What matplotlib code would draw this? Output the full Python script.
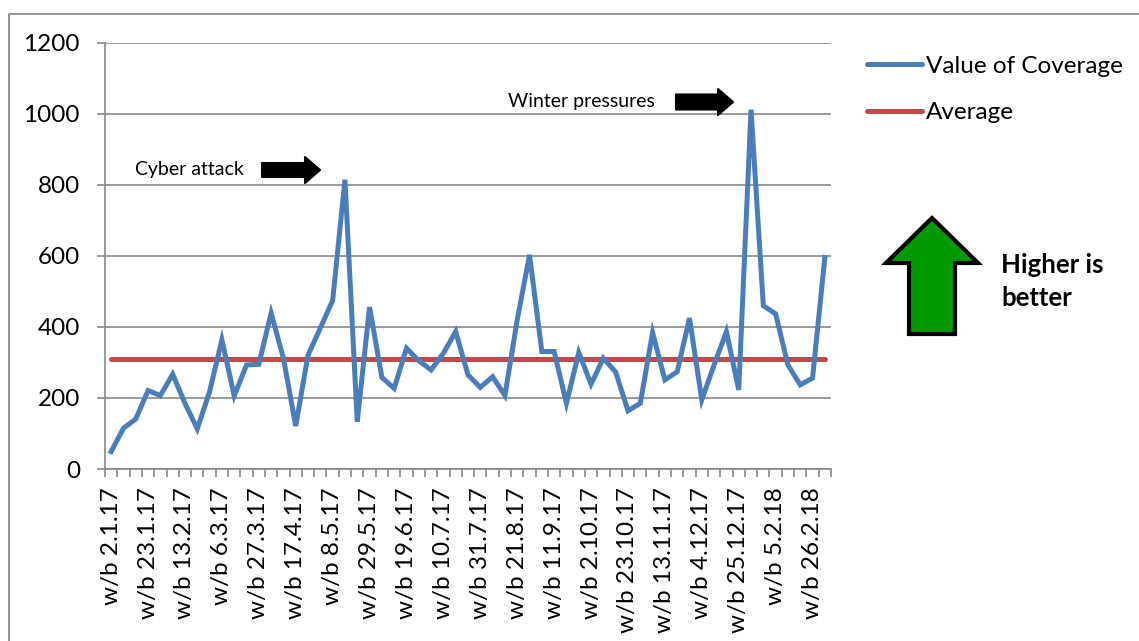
import matplotlib
matplotlib.use('Agg')
import matplotlib.pyplot as plt
from matplotlib.patches import Polygon
from matplotlib.lines import Line2D
import numpy as np

plt.rcParams['font.family'] = ['Lato', 'DejaVu Sans']

# weekly values of coverage
coverage = [49, 115, 141, 221, 207, 267, 185, 113, 218, 364,
            206, 293, 295, 439, 312, 121, 321, 397, 475, 815,
            133, 456, 258, 227, 340, 305, 279, 326, 387, 265,
            230, 260, 207, 420, 603, 331, 331, 185, 328, 239,
            312, 273, 164, 185, 384, 251, 274, 425, 195, 293,
            387, 223, 1012, 460, 437, 293, 237, 256, 596]
average = 309

tick_labels = ['w/b 2.1.17', 'w/b 23.1.17', 'w/b 13.2.17', 'w/b 6.3.17',
               'w/b 27.3.17', 'w/b 17.4.17', 'w/b 8.5.17', 'w/b 29.5.17',
               'w/b 19.6.17', 'w/b 10.7.17', 'w/b 31.7.17', 'w/b 21.8.17',
               'w/b 11.9.17', 'w/b 2.10.17', 'w/b 23.10.17', 'w/b 13.11.17',
               'w/b 4.12.17', 'w/b 25.12.17', 'w/b 5.2.18', 'w/b 26.2.18']
tick_every = 3

W, H = 1139, 641
BLUE = '#4A7EBB'
RED = '#BE4B48'
GRID = '#898989'
FS = 17.5

def fx(x):
    return x / W

def fy(y):
    return 1 - y / H

fig = plt.figure(figsize=(W / 100, H / 100), dpi=100)
ax = fig.add_axes([fx(105), fy(469), fx(831) - fx(105), fy(43) - fy(469)])

n = len(coverage)
x = np.arange(n)
ax.plot(x, [average] * n, color=RED, lw=3.6, solid_capstyle='round', zorder=3)
ax.plot(x, coverage, color=BLUE, lw=3.6, solid_joinstyle='miter', zorder=4)

ax.set_xlim(-0.5, n - 0.5)
ax.set_ylim(0, 1200)
ax.set_yticks(range(0, 1201, 200))
ax.yaxis.grid(True, color=GRID, lw=1.2)
ax.set_axisbelow(True)

for s in ['top', 'right']:
    ax.spines[s].set_visible(False)
for s in ['left', 'bottom']:
    ax.spines[s].set_color(GRID)
    ax.spines[s].set_linewidth(1.2)

ax.set_xticks(np.arange(-0.5, n, 1))
ax.set_xticklabels([])
ax.set_xticks(np.arange(0, n, tick_every)[:len(tick_labels)], minor=True)
ax.set_xticklabels(tick_labels, minor=True, rotation=90, fontsize=FS)
ax.tick_params(axis='x', which='major', length=6, width=1.2, color=GRID)
ax.tick_params(axis='x', which='minor', length=0, pad=13)
ax.tick_params(axis='y', length=6, width=1.2, color=GRID, pad=12, labelsize=FS)

# legend
leg_handles = [Line2D([], [], color=BLUE, lw=3.6, solid_capstyle='round'),
               Line2D([], [], color=RED, lw=3.6, solid_capstyle='round')]
fig.legend(leg_handles, ['Value of Coverage', 'Average'], loc='upper left',
           bbox_to_anchor=(fx(845), fy(34)), frameon=False, fontsize=FS,
           handlelength=2.25, handletextpad=0.17, labelspacing=1.05)

# annotations
fig.text(fx(135), fy(170), 'Cyber attack', fontsize=14, va='center', ha='left')
fig.text(fx(508), fy(102), 'Winter pressures', fontsize=14, va='center', ha='left')

def block_arrow(x0, x1, xt, yc, bh, hh):
    pts = [(x0, yc - bh), (x1, yc - bh), (x1, yc - hh), (xt, yc),
           (x1, yc + hh), (x1, yc + bh), (x0, yc + bh)]
    return Polygon([(fx(a), fy(b)) for a, b in pts], closed=True,
                   transform=fig.transFigure, facecolor='black',
                   edgecolor='black', lw=1.5, joinstyle='round')

fig.patches.append(block_arrow(262, 305, 320, 170, 7, 13))
fig.patches.append(block_arrow(676, 718, 733, 102, 7.5, 13))

up = [(909, 334), (955, 334), (955, 263), (978, 263), (932, 218),
      (886, 263), (909, 263)]
fig.patches.append(Polygon([(fx(a), fy(b)) for a, b in up], closed=True,
                           transform=fig.transFigure, facecolor='#009900',
                           edgecolor='black', lw=3, joinstyle='miter'))
fig.text(fx(1001), fy(265), 'Higher is', fontsize=18.5, fontweight='bold',
         va='center', ha='left')
fig.text(fx(1001), fy(298), 'better', fontsize=18.5, fontweight='bold',
         va='center', ha='left')

# chart area border (only top and left visible)
fig.add_artist(Line2D([fx(8.5), fx(8.5), 1.0], [0.0, fy(14), fy(14)],
                      transform=fig.transFigure, color='#8a8a8a', lw=1.3))

fig.savefig('out.png', dpi=100)
